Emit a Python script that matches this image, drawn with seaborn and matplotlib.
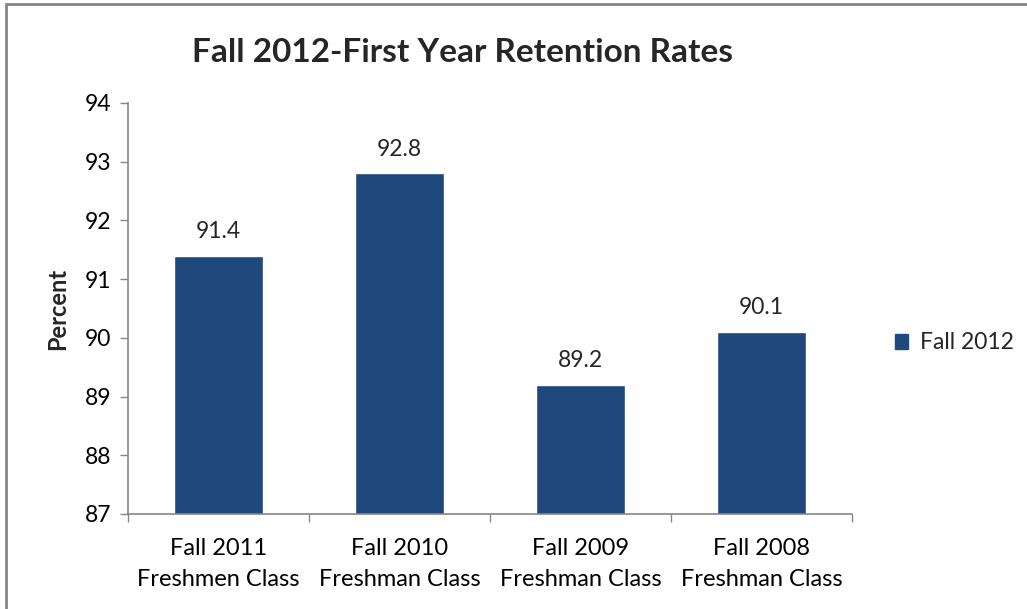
import matplotlib
matplotlib.use("Agg")
import matplotlib.pyplot as plt
import matplotlib.patches as mpatches
from matplotlib.ticker import FixedLocator
import seaborn as sns

# chart data
categories = ["Fall 2011\nFreshmen Class", "Fall 2010\nFreshman Class",
              "Fall 2009\nFreshman Class", "Fall 2008\nFreshman Class"]
retention = [91.4, 92.8, 89.2, 90.1]
series_name = "Fall 2012"
y_ticks = [87, 88, 89, 90, 91, 92, 93, 94]

bar_color = "#1F497D"
axis_color = "#868686"

sns.set_theme(style="white")
plt.rcParams["font.family"] = ["Lato", "DejaVu Sans"]

fig = plt.figure(figsize=(10.27, 6.09), dpi=100)
ax = fig.add_axes([0.1246, 0.156, 0.705, 0.675])

sns.barplot(x=categories, y=retention, color=bar_color, saturation=1,
            width=0.49, ax=ax)

ax.set_ylim(87, 94)
ax.set_xlim(-0.5, len(categories) - 0.5)
ax.set_yticks(y_ticks)
ax.tick_params(axis="y", labelsize=16.5, length=6, width=1, color=axis_color,
               direction="out", left=True, pad=6, labelcolor="black")
ax.tick_params(axis="x", which="major", labelsize=17, length=0, pad=17,
               labelcolor="black")
ax.xaxis.set_minor_locator(FixedLocator([i - 0.5 for i in range(len(categories) + 1)]))
ax.tick_params(axis="x", which="minor", length=6, width=1, color=axis_color,
               direction="out", bottom=True)
for lbl in ax.get_xticklabels():
    lbl.set_linespacing(1.6)

for side in ["top", "right"]:
    ax.spines[side].set_visible(False)
for side in ["left", "bottom"]:
    ax.spines[side].set_color(axis_color)
    ax.spines[side].set_linewidth(1.2)

ax.bar_label(ax.containers[0], fmt="%.1f", padding=10, fontsize=16.5)

ax.set_ylabel("Percent", fontsize=17, fontweight="bold")
ax.yaxis.set_label_coords(-0.081, 0.5)
ax.set_xlabel("")

fig.text(0.45, 0.913, "Fall 2012-First Year Retention Rates",
         fontsize=24, fontweight="bold", ha="center", va="center")

handle = mpatches.Patch(color=bar_color, label=series_name)
fig.legend(handles=[handle], loc="center left", bbox_to_anchor=(0.851, 0.437),
           frameon=False, fontsize=16.5, handlelength=0.6, handleheight=0.6,
           handletextpad=0.5)

# chart-area border, Excel style
fig.add_artist(mpatches.Rectangle((0.006, -0.05), 1.5, 1.043,
                                  transform=fig.transFigure, fill=False,
                                  edgecolor=axis_color, linewidth=2))

fig.savefig("out.png", dpi=100)
